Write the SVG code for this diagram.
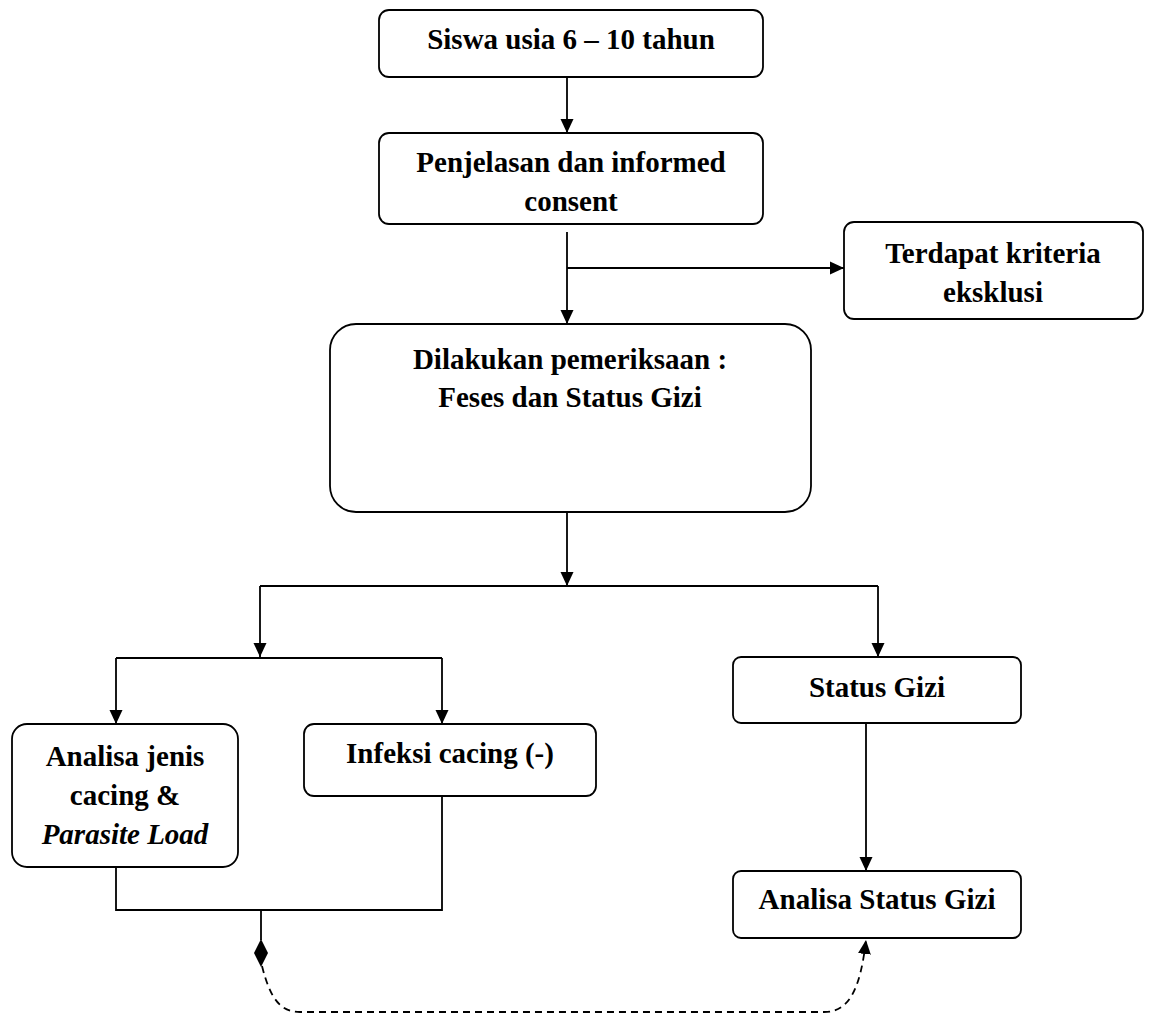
<svg xmlns="http://www.w3.org/2000/svg" width="1149" height="1015" viewBox="0 0 1149 1015">
<style>
.box{fill:#fff;stroke:#000;stroke-width:1.8}
.t{font-family:"Liberation Serif","Times New Roman",serif;font-weight:bold;font-size:29px;text-anchor:middle;fill:#000}
.it{font-style:italic}
.ln{fill:none;stroke:#000;stroke-width:1.8}
.dash{fill:none;stroke:#000;stroke-width:1.8;stroke-dasharray:7,5}
</style>
<defs>
<marker id="arr" markerUnits="userSpaceOnUse" viewBox="0 0 14 14" refX="14" refY="7" markerWidth="14" markerHeight="14" orient="auto">
<path d="M0,0.5 L14,7 L0,13.5 z" fill="#000"/>
</marker>
</defs>
<rect width="1149" height="1015" fill="#fff"/>
<g id="connectors">
<line class="ln" x1="567" y1="77" x2="567" y2="133" marker-end="url(#arr)"/>
<line class="ln" x1="567" y1="232" x2="567" y2="324" marker-end="url(#arr)"/>
<line class="ln" x1="567" y1="268" x2="844" y2="268" marker-end="url(#arr)"/>
<line class="ln" x1="567" y1="512" x2="567" y2="586" marker-end="url(#arr)"/>
<line class="ln" x1="260" y1="586" x2="878" y2="586"/>
<line class="ln" x1="260" y1="586" x2="260" y2="657" marker-end="url(#arr)"/>
<line class="ln" x1="878" y1="586" x2="878" y2="657" marker-end="url(#arr)"/>
<line class="ln" x1="116" y1="658" x2="442" y2="658"/>
<line class="ln" x1="116" y1="658" x2="116" y2="724" marker-end="url(#arr)"/>
<line class="ln" x1="442" y1="658" x2="442" y2="724" marker-end="url(#arr)"/>
<line class="ln" x1="866" y1="723" x2="866" y2="871" marker-end="url(#arr)"/>
<polyline class="ln" points="116,867 116,910 442,910 442,796"/>
<line class="ln" x1="261" y1="910" x2="261" y2="940"/>
<polygon points="261,939 268,953 261,967 254,953" fill="#000"/>
<path class="dash" d="M262,966 C270,998 280,1012 300,1012 L824,1012 C848,1012 860,992 866,940" marker-end="url(#arr)"/>
</g>
<g id="n1">
<rect class="box" x="379" y="10" width="384" height="67" rx="10"/>
<text class="t" x="571" y="49">Siswa usia 6 – 10 tahun</text>
</g>
<g id="n2">
<rect class="box" x="379" y="133" width="384" height="91" rx="10"/>
<text class="t" x="571" y="172">Penjelasan dan informed</text>
<text class="t" x="571" y="211">consent</text>
</g>
<g id="n3">
<rect class="box" x="844" y="222" width="299" height="97" rx="10"/>
<text class="t" x="993" y="263">Terdapat kriteria</text>
<text class="t" x="993" y="302">eksklusi</text>
</g>
<g id="n4">
<rect class="box" x="330" y="324" width="481" height="188" rx="26"/>
<text class="t" x="570" y="369">Dilakukan pemeriksaan :</text>
<text class="t" x="570" y="407">Feses dan Status Gizi</text>
</g>
<g id="n5">
<rect class="box" x="12" y="724" width="226" height="143" rx="15"/>
<text class="t" x="125" y="766">Analisa jenis</text>
<text class="t" x="125" y="805">cacing &amp;</text>
<text class="t it" x="125" y="844">Parasite Load</text>
</g>
<g id="n6">
<rect class="box" x="304" y="724" width="292" height="72" rx="10"/>
<text class="t" x="450" y="763">Infeksi cacing (-)</text>
</g>
<g id="n7">
<rect class="box" x="733" y="657" width="288" height="66" rx="8"/>
<text class="t" x="877" y="697">Status Gizi</text>
</g>
<g id="n8">
<rect class="box" x="733" y="871" width="288" height="67" rx="8"/>
<text class="t" x="877" y="909">Analisa Status Gizi</text>
</g>
</svg>
